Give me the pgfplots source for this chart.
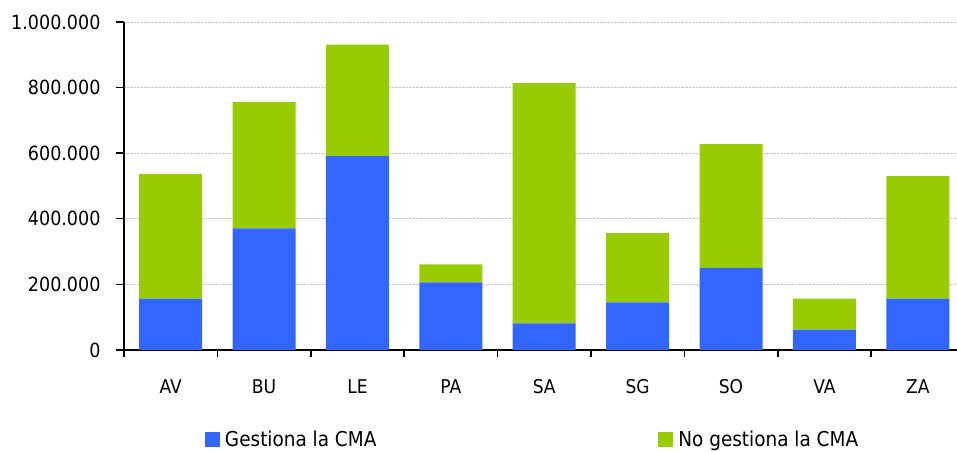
\documentclass[border=0pt]{standalone}
\usepackage{pgfplots}
\pgfplotsset{compat=1.18}
\usepackage{fontspec}
\setmainfont{DejaVu Sans Condensed}
\definecolor{cmablue}{HTML}{3366FF}
\definecolor{cmagreen}{HTML}{99CC00}
\begin{document}
\begin{tikzpicture}
\useasboundingbox (0,0) rectangle (957bp,452bp);
\begin{axis}[
  at={(124bp,102bp)}, anchor=south west,
  scale only axis, width=833bp, height=328bp,
  ybar stacked, bar width=63bp,
  xmin=-0.5, xmax=8.42, ymin=0, ymax=1000000,
  axis x line*=bottom, axis y line*=left,
  axis line style={line width=1.4bp, black},
  xtick={0,...,8}, xticklabels={AV,BU,LE,PA,SA,SG,SO,VA,ZA},
  major x tick style={draw=none},
  minor xtick={-0.5,0.5,...,7.5},
  minor x tick style={line width=1.6bp, black},
  ytick={0,200000,400000,600000,800000,1000000},
  yticklabels={0,200.000,400.000,600.000,800.000,1.000.000},
  major y tick style={line width=1.4bp, black},
  tick align=outside, major tick length=8bp, minor tick length=7bp,
  scaled y ticks=false,
  tick label style={font=\fontsize{19.5bp}{23bp}\selectfont},
  x tick label style={yshift=-18bp, font=\fontsize{19bp}{23bp}\selectfont},
  y tick label style={xshift=-12bp},
  ymajorgrids,
  major grid style={gray!45, densely dotted, line width=0.8bp},
  legend style={at={(0.097,-0.274)}, anchor=west, draw=none, fill=none,
    legend columns=2, font=\fontsize{20.5bp}{24bp}\selectfont,
    /tikz/every even column/.append style={column sep=280bp},
    inner sep=0pt, cells={anchor=west}},
  legend image code/.code={\fill[#1] (0bp,-7.5bp) rectangle (15bp,7.5bp); \path (0bp,0bp) -- (18bp,0bp);},
]
\addplot[fill=cmablue, draw=none] coordinates {(0,157000) (1,371000) (2,591000) (3,206000) (4,81000) (5,145000) (6,250000) (7,62000) (8,157000)};
\addplot[fill=cmagreen, draw=none] coordinates {(0,379000) (1,385000) (2,340000) (3,55000) (4,733000) (5,211000) (6,378000) (7,95000) (8,373000)};
\legend{Gestiona la CMA, No gestiona la CMA}
\end{axis}
\end{tikzpicture}
\end{document}
